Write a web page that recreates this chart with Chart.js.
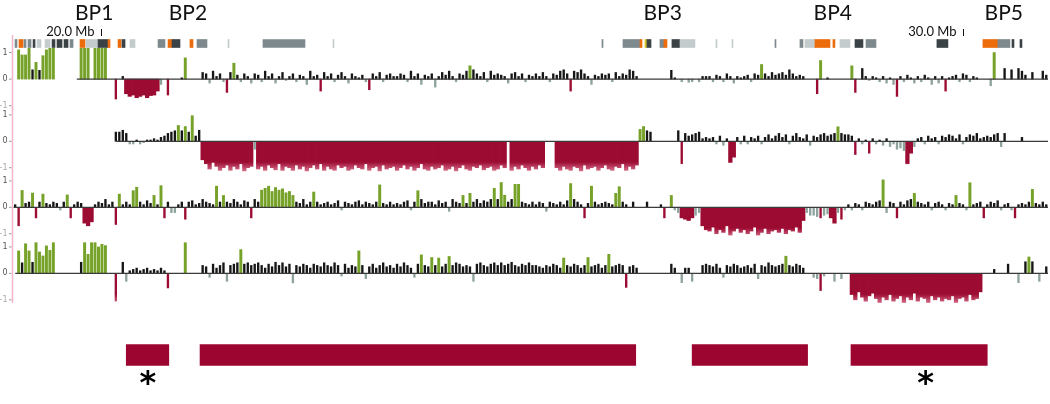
<!DOCTYPE html>
<html>
<head>
<meta charset="utf-8">
<script src="https://cdn.jsdelivr.net/npm/chart.js@4.4.1/dist/chart.umd.min.js"></script>
<style>
  html, body { margin: 0; padding: 0; background: #fff; }
  #wrap { position: relative; width: 1050px; height: 404px; overflow: hidden; }
  #wrap canvas { position: absolute; left: 0; }
</style>
</head>
<body>
<div id="wrap"></div>
<script>
// probe positions (Mb), ten per row
const probeMb = [
  19.08, 19.12, 19.16, 19.20, 19.24, 19.28, 19.32, 19.36, 19.40, 19.44,
  19.48, 19.52, 19.56, 19.60, 19.64, 19.68, 19.72, 19.76, 19.80, 19.84,
  19.88, 19.92, 19.96, 20.00, 20.04, 20.08, 20.12, 20.16, 20.20, 20.24,
  20.28, 20.32, 20.36, 20.40, 20.44, 20.48, 20.52, 20.56, 20.60, 20.64,
  20.68, 20.72, 20.76, 20.80, 20.84, 20.88, 20.92, 20.96, 21.00, 21.04,
  21.08, 21.12, 21.16, 21.20, 21.24, 21.28, 21.32, 21.36, 21.40, 21.44,
  21.48, 21.52, 21.56, 21.60, 21.64, 21.68, 21.72, 21.76, 21.80, 21.84,
  21.88, 21.92, 21.96, 22.00, 22.04, 22.08, 22.12, 22.16, 22.20, 22.24,
  22.28, 22.32, 22.36, 22.40, 22.44, 22.48, 22.52, 22.56, 22.60, 22.64,
  22.68, 22.72, 22.76, 22.80, 22.84, 22.88, 22.92, 22.96, 23.00, 23.04,
  23.08, 23.12, 23.16, 23.20, 23.24, 23.28, 23.32, 23.36, 23.40, 23.44,
  23.48, 23.52, 23.56, 23.60, 23.64, 23.68, 23.72, 23.76, 23.80, 23.84,
  23.88, 23.92, 23.96, 24.00, 24.04, 24.08, 24.12, 24.16, 24.20, 24.24,
  24.28, 24.32, 24.36, 24.40, 24.44, 24.48, 24.52, 24.56, 24.60, 24.64,
  24.68, 24.72, 24.76, 24.80, 24.84, 24.88, 24.92, 24.96, 25.00, 25.04,
  25.08, 25.12, 25.16, 25.20, 25.24, 25.28, 25.32, 25.36, 25.40, 25.44,
  25.48, 25.52, 25.56, 25.60, 25.64, 25.68, 25.72, 25.76, 25.80, 25.84,
  25.88, 25.92, 25.96, 26.00, 26.04, 26.08, 26.12, 26.16, 26.20, 26.24,
  26.28, 26.32, 26.36, 26.40, 26.44, 26.48, 26.52, 26.56, 26.60, 26.64,
  26.68, 26.72, 26.76, 26.80, 26.84, 26.88, 26.92, 26.96, 27.00, 27.04,
  27.08, 27.12, 27.16, 27.20, 27.24, 27.28, 27.32, 27.36, 27.40, 27.44,
  27.48, 27.52, 27.56, 27.60, 27.64, 27.68, 27.72, 27.76, 27.80, 27.84,
  27.88, 27.92, 27.96, 28.00, 28.04, 28.08, 28.12, 28.16, 28.20, 28.24,
  28.28, 28.32, 28.36, 28.40, 28.44, 28.48, 28.52, 28.56, 28.60, 28.64,
  28.68, 28.72, 28.76, 28.80, 28.84, 28.88, 28.92, 28.96, 29.00, 29.04,
  29.08, 29.12, 29.16, 29.20, 29.24, 29.28, 29.32, 29.36, 29.40, 29.44,
  29.48, 29.52, 29.56, 29.60, 29.64, 29.68, 29.72, 29.76, 29.80, 29.84,
  29.88, 29.92, 29.96, 30.00, 30.04, 30.08, 30.12, 30.16, 30.20, 30.24,
  30.28, 30.32, 30.36, 30.40, 30.44, 30.48, 30.52, 30.56, 30.60, 30.64,
  30.68, 30.72, 30.76, 30.80, 30.84, 30.88, 30.92, 30.96, 31.00, 31.04
];

// log2 ratios per sample, same order as probeMb
const sample1 = [
  null, 1.1, .91, .91, 1.16, .35, .63, .33, .88, 1.1,
  1.16, 1.16, null, null, null, null, null, null, null, 1.16,
  1.16, 1.16, null, 1.16, 1.16, 1.16, 1.16, null, null, -.75,
  null, .1, -.55, -.65, -.6, -.7, -.65, -.6, -.7, -.62,
  -.6, -.45, -.2, null, -.6, null, null, null, .05, .8,
  null, null, null, null, .25, .2, -.15, .3, .1, .2,
  -.1, -.5, .25, .6, .15, -.1, .2, .1, -.15, .2,
  .15, -.1, .3, .1, .2, -.15, .1, .25, -.05, .1,
  .2, -.1, .15, .1, -.2, .3, .1, .15, -.45, .25,
  .1, .2, -.1, .15, .25, .1, -.15, .2, .1, .05,
  .15, -.1, -.4, .2, .1, .25, -.1, .15, .2, .1,
  .1, .2, .15, -.1, .3, .1, .2, -.2, .15, .1,
  .2, -.3, .1, .25, .15, .3, .1, -.1, .2, .15,
  .3, .5, .35, .2, .1, .25, -.1, .3, .15, .2,
  .15, .1, -.15, .2, .25, .1, .2, -.1, .15, .1,
  .2, .1, .25, .1, -.1, .2, .15, .3, .35, .2,
  -.45, .3, .25, .35, .2, .1, -.2, .15, .1, .2,
  .15, .2, -.1, .25, .1, .2, .15, .35, .3, .1,
  null, null, null, null, null, null, null, null, null, .33,
  .05, null, -.1, null, -.12, -.1, null, -.1, .1, .1,
  .1, -.1, .15, .1, -.1, .2, .1, -.15, .1, .05,
  .1, .15, -.1, .2, .15, .55, .2, .1, .25, .15,
  .2, .25, .15, .35, .2, .1, .15, .1, null, null,
  null, -.55, .7, null, .05, null, null, null, null, null,
  null, .5, -.5, null, .4, .1, -.05, .1, .05, -.1,
  .1, -.15, .05, -.2, -.65, .1, -.1, .15, .05, -.15,
  .1, -.1, .15, .05, -.2, .1, -.15, .1, -.45, .05,
  .1, .15, -.1, .2, .15, -.1, .1, .05, null, null,
  null, -.25, 1.0, null, null, .4, null, .35, null, .4,
  .3, .15, null, .25, null, null, .3, .15, null, null
];

const sample2 = [
  null, null, null, null, null, null, null, null, null, null,
  null, null, null, null, null, null, null, null, null, null,
  null, null, null, null, null, null, null, null, null, .35,
  .35, .42, .3, -.1, -.1, .05, -.1, -.05, .05, .05,
  .1, .05, .15, .2, .3, .35, .4, .6, .4, .56,
  .35, .97, .2, .42, -.7, -.85, -1.05, -.8, -.95, -1.1,
  -1.0, -.9, -1.1, -.95, -1.05, -.85, -1.12, -1.0, -.95, -.3,
  -1.05, -.95, -1.1, -.9, -1.0, -1.08, -.85, -1.1, -.95, -1.0,
  -1.1, -.9, -1.05, -.95, -1.12, -1.0, -.9, -1.05, -.85, -1.1,
  -.95, -1.05, -1.1, -.9, -1.0, -.95, -1.1, -1.05, -.9, -1.0,
  -1.05, -.85, -1.1, -1.0, -.95, -1.12, -.9, -1.05, -1.0, -.95,
  -1.1, -1.0, -.9, -1.05, -.95, -1.1, -1.0, -.85, -1.05, -1.1,
  -.95, -1.05, -1.0, -.9, -1.1, -1.05, -.95, -1.12, -1.0, -.9,
  -1.05, -1.1, -.95, -1.0, -.9, -1.08, -1.0, -.95, -1.1, -1.05,
  -.9, -1.0, null, -1.1, -.95, -1.05, -.9, -1.0, -1.1, -.95,
  -1.05, -.9, -1.0, null, null, null, -1.0, -1.1, -.95, -1.05,
  -1.1, -.95, -1.0, -1.12, -.9, -1.05, -1.0, -.95, -1.1, -1.0,
  -.9, -1.05, -1.1, -.95, -1.0, -.85, -1.1, -.95, -1.05, -.9,
  .45, .56, .4, .35, null, null, null, null, null, null,
  null, .4, -.85, .3, .2, .25, .3, .35, .1, .15,
  .1, .15, -.1, .2, -.15, .1, -.8, -.6, .15, -.1,
  .2, -.1, .15, .1, .2, -.1, .15, .25, .1, .2,
  .3, .15, .25, -.1, .2, .3, .15, .1, .25, -.15,
  .2, .15, .25, .3, .2, .25, .3, .55, .3, .25,
  .25, .2, -.5, .1, -.1, .05, -.45, .1, -.1, .05,
  -.15, .1, -.2, -.1, -.3, -.25, -.35, -.85, -.45, -.2,
  .1, .15, -.1, .2, .1, .15, -.1, .2, .15, .25,
  .2, .1, .25, -.1, .15, .25, .2, .3, .1, .15,
  .2, .15, .25, .3, -.2, .3, null, null, null, null,
  .15, null, null, null, null, null, null, null, null, null
];

const sample3 = [
  .1, -.7, .64, .15, .2, .54, -.4, .2, .5, .15,
  .1, .2, .15, -.1, .2, .47, -.4, .1, .2, .15,
  -.6, -.7, -.55, .1, .2, .15, .3, .1, .2, -.65,
  .5, .1, .2, .1, .63, .76, .2, .1, .25, .15,
  .45, .1, .82, -.4, .2, -.2, -.2, .1, .2, -.45,
  .2, .25, .1, .15, .3, .2, .15, .1, .8, .2,
  .45, .2, .15, .3, .2, .1, .25, .2, -.4, .3,
  .2, .65, .72, .8, .6, .75, .65, .7, .55, .6,
  .45, .2, .15, .3, .1, .2, .58, .2, .1, .15,
  .2, .1, .15, .25, -.1, .2, .15, .1, .2, .25,
  .1, .2, .15, .1, .2, .85, .15, .1, .2, .1,
  .15, .1, .2, .25, -.1, .2, .63, .3, .15, .2,
  .2, .1, .25, .15, .2, -.15, .3, .2, .15, .45,
  .15, .53, .2, .3, .15, .25, .2, .3, .72, .3,
  .94, .46, .2, .3, .87, .87, .2, .15, .1, .2,
  .1, .2, .15, -.15, .2, .15, .1, .2, .1, .25,
  .9, .3, .2, .1, -.4, .15, .8, .2, .1, .15,
  .2, .15, .1, .53, .78, .2, .1, null, .2, null,
  null, null, .2, null, null, null, .1, -.4, null, .45,
  -.1, -.2, -.4, -.45, -.5, -.4, -.3, -.2, -.7, -.85,
  -.9, -.75, -1.0, -.85, -.95, -.7, -1.05, -.9, -.8, -.95,
  -.85, -1.0, -.9, -.75, -1.05, -.95, -.8, -1.0, -.9, -.85,
  -.95, -.8, -1.0, -.85, -.9, -.75, -.95, -.5, -.2, -.3,
  -.3, -.35, -.4, -.3, -.25, -.4, -.6, -.2, -.45, -.1,
  .1, -.1, .15, .1, -.1, .2, .15, .1, .2, .25,
  1.04, -.2, .2, .15, -.4, .2, .1, .25, .3, .53,
  .2, .15, .1, .2, -.1, .15, .2, .1, -.1, .15,
  .1, .45, .15, .1, -.1, .93, .1, .15, .2, -.4,
  .1, .2, .15, .25, -.1, .1, .15, -.1, -.4, .1,
  .15, .1, .2, .68, .15, .1, .2, .1, null, null
];

const sample4 = [
  null, .85, .4, 1.12, .85, .42, 1.16, .81, .66, 1.04,
  .87, 1.16, null, null, null, null, null, null, null, .42,
  1.16, .72, 1.16, 1.16, 1.0, 1.1, 1.05, null, null, -1.05,
  null, .42, -.3, .1, .15, .2, .1, .15, .2, .1,
  .15, .1, .2, .1, -.55, null, null, null, null, 1.16,
  null, null, null, null, .3, .25, -.15, .35, .2, .3,
  .4, -.3, .3, .35, .4, .9, .35, .4, .3, .35,
  .4, .3, .2, .35, .25, .42, .3, .4, .25, .35,
  -.36, .3, .25, .35, .3, .2, .35, .3, .25, .4,
  .3, .25, .4, .3, -.1, .35, .2, .3, .25, .85,
  .3, -.2, .25, .35, .2, .3, .4, .25, .3, .2,
  .35, .25, .4, .3, .2, -.15, .35, .7, .3, .25,
  .6, .3, .58, .25, .35, .64, .3, .4, .35, .25,
  .3, .25, -.3, .35, .4, .3, .25, .35, .4, .3,
  .4, .3, .35, .42, .3, .25, .35, .3, .4, .3,
  .3, .25, .2, .3, .25, .35, .3, .2, .58, .3,
  .25, .35, .3, .2, .3, .6, .25, .3, .35, .2,
  .3, .72, .25, .3, .35, .3, -.53, .25, .3, .2,
  null, null, null, null, null, null, null, null, null, .35,
  .2, null, -.35, .2, .2, -.3, null, null, .3, .35,
  .3, .25, .35, .2, -.15, .3, .25, .35, .3, .2,
  .25, .3, .2, .35, -.2, .3, .25, .4, .3, .25,
  .3, .35, .65, .3, .25, .35, .3, .2, null, null,
  -.15, -.2, -.65, -.1, null, null, -.3, null, -.2, null,
  null, -.8, -1.0, -.7, -.9, -1.05, -.85, -.75, -.95, -1.1,
  -.9, -1.0, -.8, -1.05, -.95, -.85, -1.1, -.9, -1.0, -.75,
  -1.05, -.9, -.95, -1.1, -.85, -1.0, -.9, -1.05, -.95, -1.0,
  -.85, -1.1, -.95, -.9, -1.05, -.8, -1.0, -.95, -.7, null,
  null, null, .15, null, null, null, .35, null, null, -.35,
  null, .44, .62, .44, null, -.3, null, .25, null, null
];

// gene annotation strip
const geneStart = [19.078, 19.124, 19.182, 19.228, 19.286, 19.332, 19.424, 19.505, 19.562, 19.643,
  19.712, 19.827, 19.896, 20.035, 20.150, 20.265, 20.311, 20.403, 20.726, 20.841,
  20.887, 21.094, 21.175, 21.532, 21.935, 22.742, 25.841, 26.083, 26.279, 26.336,
  26.359, 26.509, 26.555, 26.647, 26.740, 27.154, 27.339, 27.834, 28.122, 28.180,
  28.295, 28.502, 28.583, 28.756, 28.883, 29.700, 30.230, 30.403, 30.565, 30.657];
const geneEnd = [19.101, 19.171, 19.205, 19.263, 19.309, 19.378, 19.482, 19.539, 19.620, 19.689,
  19.747, 19.885, 20.035, 20.150, 20.173, 20.300, 20.346, 20.461, 20.806, 20.887,
  20.979, 21.129, 21.290, 21.544, 22.419, 22.753, 25.853, 26.279, 26.302, 26.359,
  26.406, 26.555, 26.590, 26.740, 26.912, 27.166, 27.350, 27.846, 28.157, 28.295,
  28.468, 28.525, 28.698, 28.848, 28.998, 29.827, 30.403, 30.541, 30.588, 30.680];
const geneKind = ['g', 'o', 'g', 'g', 'd', 'l', 'l', 'd', 'd', 'd',
  'g', 'o', 'l', 'd', 'o', 'o', 'd', 'l', 'g', 'o',
  'd', 'o', 'g', 'l', 'g', 'l', 'g', 'g', 'o', 'y',
  'd', 'g', 'o', 'd', 'l', 'l', 'l', 'g', 'g', 'l',
  'o', 'o', 'l', 'd', 'g', 'd', 'o', 'g', 'd', 'd'];

const bpLabels = ['BP1', 'BP2', 'BP3', 'BP4', 'BP5'];
const bpMb = [19.99, 21.07, 26.54, 28.50, 30.47];
const markLabels = ['20.0 Mb', '30.0 Mb'];
const markMb = [20.07, 30.0];

// deleted segments below the tracks
const delStart = [20.36, 21.21, 26.88, 28.71];
const delEnd = [20.85, 26.23, 28.21, 30.28];
const starMb = [20.61, 29.57];

const X_MIN = 19.055, X_MAX = 30.98;
const GREEN = '#76a22a', BLACK = '#161616', GREY = '#8fa39e', RED = '#9c0b32', PINK = '#d9728d';
const GENE_COLORS = { o: '#ec6b0b', d: '#3b4245', g: '#7d898c', l: '#c4cbcc', y: '#d8c52a' };
const GAIN_CUT = 0.45, LOSS_CUT = -0.38;

function addCanvas(top, height) {
  const c = document.createElement('canvas');
  c.width = 1050;
  c.height = height;
  c.style.top = top + 'px';
  document.getElementById('wrap').appendChild(c);
  return c;
}

const baseOptions = (padding) => ({
  responsive: false,
  animation: false,
  events: [],
  devicePixelRatio: 1,
  layout: { padding },
  plugins: { legend: { display: false }, tooltip: { enabled: false } },
});

// ---- sample tracks ----
const trackDecor = {
  id: 'trackDecor',
  afterDatasetsDraw(chart, args, opts) {
    const { ctx, chartArea, scales: { x, y } } = chart;
    const y0 = y.getPixelForValue(0);
    ctx.save();
    ctx.strokeStyle = '#3a3a3a';
    ctx.lineWidth = 1.3;
    ctx.beginPath();
    ctx.moveTo(x.getPixelForValue(opts.lineFrom), y0);
    ctx.lineTo(chartArea.right, y0);
    ctx.stroke();

    ctx.strokeStyle = '#f3b4ca';
    ctx.lineWidth = 1.5;
    ctx.beginPath();
    ctx.moveTo(chartArea.left - 0.5, chartArea.top);
    ctx.lineTo(chartArea.left - 0.5, chartArea.bottom);
    ctx.stroke();

    ctx.font = '8px "DejaVu Sans"';
    ctx.textAlign = 'right';
    ctx.textBaseline = 'middle';
    [1, 0, -1].forEach((v) => {
      const py = y.getPixelForValue(v);
      ctx.fillStyle = v === -1 ? '#aaa' : '#555';
      ctx.fillText(String(v), 7.5, py);
      ctx.strokeStyle = '#999';
      ctx.lineWidth = 1;
      ctx.beginPath();
      ctx.moveTo(9, py);
      ctx.lineTo(11.5, py);
      ctx.stroke();
    });
    ctx.restore();
  },
};

function lossFill(c) {
  const chart = c.chart;
  if (!chart.chartArea) return RED;
  const ys = chart.scales.y;
  const g = chart.ctx.createLinearGradient(0, ys.getPixelForValue(-0.78), 0, ys.getPixelForValue(-1.15));
  g.addColorStop(0, RED);
  g.addColorStop(1, PINK);
  return g;
}

const classOf = (v) => (v === null || v === undefined ? null : v >= GAIN_CUT ? 'gain' : v < LOSS_CUT ? 'loss' : 'flat');

const tracks = [
  { values: sample1, top: 35, height: 76, min: -1.2, max: 1.66, lineFrom: 19.79 },
  { values: sample2, top: 107, height: 66, min: -1.2, max: 1.3, lineFrom: 20.25 },
  { values: sample3, top: 173, height: 66, min: -1.2, max: 1.3, lineFrom: 19.06 },
  { values: sample4, top: 239, height: 64, min: -1.12, max: 1.3, lineFrom: 19.08 },
];

tracks.forEach((t) => {
  const v = t.values;
  // a loss probe next to another loss probe belongs to a deleted run
  const inRun = (i) => classOf(v[i]) === 'loss' && (classOf(v[i - 1]) === 'loss' || classOf(v[i + 1]) === 'loss');
  const pick = (test) => probeMb.map((x, i) => ({ x, y: test(i) ? v[i] : null }));
  const flat = pick((i) => classOf(v[i]) === 'flat' || (classOf(v[i]) === 'loss' && !inRun(i)));
  const gain = pick((i) => classOf(v[i]) === 'gain');
  const run = pick((i) => inRun(i));

  const opts = baseOptions({ left: 13, right: 2, top: 0, bottom: 0 });
  opts.plugins.trackDecor = { lineFrom: t.lineFrom };
  opts.scales = {
    x: { type: 'linear', min: X_MIN, max: X_MAX, offset: false, display: false },
    y: { type: 'linear', min: t.min, max: t.max, display: false },
  };
  new Chart(addCanvas(t.top, t.height), {
    type: 'bar',
    data: {
      datasets: [
        {
          data: flat,
          grouped: false,
          barThickness: 1.7,
          backgroundColor: (c) => {
            const y = c.raw ? c.raw.y : 0;
            return y < LOSS_CUT ? lossFill(c) : y >= 0 ? BLACK : GREY;
          },
        },
        { data: gain, grouped: false, barThickness: 2.3, backgroundColor: GREEN },
        { data: run, grouped: false, barThickness: 3.6, backgroundColor: lossFill },
      ],
    },
    options: opts,
    plugins: [trackDecor],
  });
});

// ---- header: breakpoints, scale marks, gene strip ----
const headerDecor = {
  id: 'headerDecor',
  afterDraw(chart) {
    const { ctx, scales: { x } } = chart;
    ctx.save();
    ctx.fillStyle = '#111';
    ctx.font = '21px Lato';
    ctx.textAlign = 'center';
    ctx.textBaseline = 'alphabetic';
    bpLabels.forEach((lab, i) => ctx.fillText(lab, x.getPixelForValue(bpMb[i]), 20));
    ctx.font = '13px Lato';
    ctx.textAlign = 'right';
    markLabels.forEach((lab, i) => {
      const px = Math.round(x.getPixelForValue(markMb[i])) + 0.5;
      ctx.fillText(lab, px - 7, 36);
      ctx.strokeStyle = '#111';
      ctx.lineWidth = 1;
      ctx.beginPath();
      ctx.moveTo(px, 29);
      ctx.lineTo(px, 36);
      ctx.stroke();
    });
    ctx.restore();
  },
};

const headerOpts = baseOptions({ left: 13, right: 2, top: 27, bottom: 0 });
headerOpts.indexAxis = 'y';
headerOpts.scales = {
  x: { type: 'linear', min: X_MIN, max: X_MAX, offset: false, display: false },
  y: { type: 'category', labels: ['genes'], display: false },
};
new Chart(addCanvas(0, 60), {
  type: 'bar',
  data: {
    datasets: [{
      data: geneStart.map((s, i) => ({ x: [s, geneEnd[i]], y: 'genes' })),
      backgroundColor: geneKind.map((k) => GENE_COLORS[k]),
      barThickness: 8,
    }],
  },
  options: headerOpts,
  plugins: [headerDecor],
});

// ---- deleted regions ----
const starDecor = {
  id: 'starDecor',
  afterDraw(chart) {
    const { ctx, chartArea, scales: { x } } = chart;
    ctx.save();
    ctx.fillStyle = '#000';
    ctx.font = 'bold 32px "DejaVu Sans"';
    ctx.textAlign = 'center';
    ctx.textBaseline = 'alphabetic';
    starMb.forEach((m) => ctx.fillText('*', x.getPixelForValue(m), chartArea.bottom + 13));
    ctx.restore();
  },
};

const delOpts = baseOptions({ left: 13, right: 2, top: 0, bottom: 24 });
delOpts.indexAxis = 'y';
delOpts.scales = {
  x: { type: 'linear', min: X_MIN, max: X_MAX, offset: false, display: false },
  y: { type: 'category', labels: ['deleted'], display: false },
};
new Chart(addCanvas(330, 74), {
  type: 'bar',
  data: {
    datasets: [{
      data: delStart.map((s, i) => ({ x: [s, delEnd[i]], y: 'deleted' })),
      backgroundColor: '#9b0530',
      barThickness: 21,
    }],
  },
  options: delOpts,
  plugins: [starDecor],
});
</script>
</body>
</html>
